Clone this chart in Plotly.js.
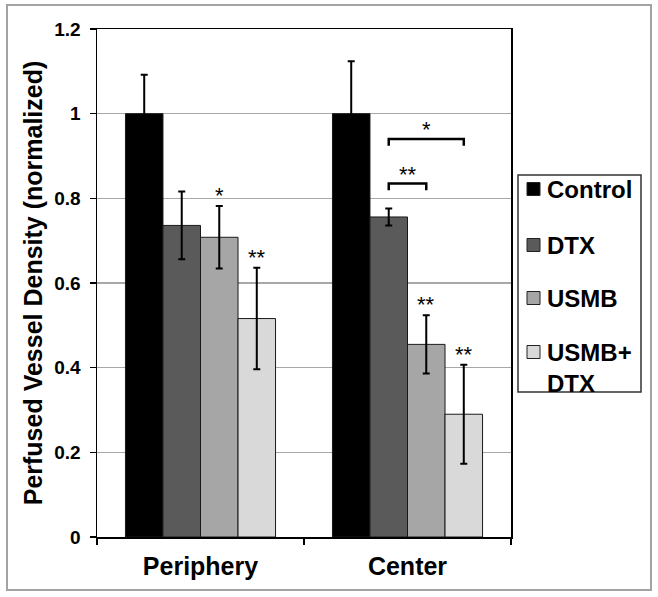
<!DOCTYPE html>
<html>
<head>
<meta charset="utf-8">
<script src="https://cdn.plot.ly/plotly-3.0.1.min.js"></script>
<style>html,body{margin:0;padding:0;background:#fff}#chart{width:658px;height:597px}</style>
</head>
<body>
<div id="chart"></div>
<script>
// ---- data ----
const categories = ["Periphery", "Center"];
const seriesNames = ["Control", "DTX", "USMB", "USMB+\nDTX"];
const seriesColors = ["#000000", "#5a5a5a", "#a6a6a6", "#d9d9d9"];
const controlVals = [1.0, 1.0];
const controlErr = [0.092, 0.124];
const dtxVals = [0.736, 0.756];
const dtxErr = [0.080, 0.020];
const usmbVals = [0.708, 0.455];
const usmbErr = [0.074, 0.069];
const comboVals = [0.516, 0.290];
const comboErr = [0.120, 0.117];
const yTickVals = [0, 0.2, 0.4, 0.6, 0.8, 1, 1.2];
const yTickText = ["0", "0.2", "0.4", "0.6", "0.8", "1", "1.2"];
// significance stars above bars: [categoryIndex, seriesIndex, label]
const starMarks = [[0, 2, "*"], [0, 3, "**"], [1, 2, "**"], [1, 3, "**"]];
// brackets within Center: [categoryIndex, fromSeries, toSeries, yLevel, label]
const brackets = [[1, 1, 3, 0.94, "*"], [1, 1, 2, 0.835, "**"]];

const values = [controlVals, dtxVals, usmbVals, comboVals];
const errors = [controlErr, dtxErr, usmbErr, comboErr];

const FONT = "Arial, 'Liberation Sans', Helvetica, sans-serif";
const L = 97, R = 511, T = 29, B = 537, W = 658, H = 597;
const px2x = p => (p - L) / (R - L);
const px2y = p => (B - p) / (B - T);

const bargap = 0.275;
const bw = (1 - bargap) / 4;
const offs = [0, 1, 2, 3].map(i => (i - 1.5) * bw);

const traces = seriesNames.map((n, i) => ({
  type: "bar",
  name: n.replace("\n", "<br>"),
  x: categories,
  y: values[i],
  marker: {color: seriesColors[i], line: {color: "#1a1a1a", width: 1}},
  error_y: {type: "data", array: errors[i], visible: true, color: "#000", thickness: 2, width: 3.5},
  showlegend: false,
  hoverinfo: "y"
}));

const shapes = [];
const annotations = [];

// outer frame
shapes.push({type: "rect", xref: "paper", yref: "paper",
  x0: px2x(7), x1: px2x(651), y0: px2y(590), y1: px2y(5),
  line: {color: "#a3a3a3", width: 2}, fillcolor: "rgba(0,0,0,0)", layer: "below"});

// stars over bars
starMarks.forEach(([c, s, lab]) => {
  annotations.push({xref: "x", yref: "y", x: c + offs[s], y: values[s][c] + errors[s][c],
    text: lab, showarrow: false, yanchor: "bottom", yshift: -4,
    font: {family: FONT, size: 22, color: "#000"}});
});

// brackets
brackets.forEach(([c, a, b, yl, lab]) => {
  const x0 = c + offs[a], x1 = c + offs[b], tip = 0.016;
  shapes.push({type: "path", xref: "x", yref: "y",
    path: `M ${x0},${yl - tip} L ${x0},${yl} L ${x1},${yl} L ${x1},${yl - tip}`,
    line: {color: "#000", width: 2.5}});
  annotations.push({xref: "x", yref: "y", x: (x0 + x1) / 2, y: yl, text: lab, showarrow: false,
    yanchor: "bottom", yshift: -5, font: {family: FONT, size: 22, color: "#000"}});
});

// legend (manual)
const legTop = 175, legBot = 392, legLeft = 518, legRight = 641;
shapes.push({type: "rect", xref: "paper", yref: "paper",
  x0: px2x(legLeft), x1: px2x(legRight), y0: px2y(legBot), y1: px2y(legTop),
  line: {color: "#333", width: 1.5}, fillcolor: "#fff"});
const legCenters = [189, 245, 298, 352];
seriesNames.forEach((n, i) => {
  const cy = legCenters[i];
  shapes.push({type: "rect", xref: "paper", yref: "paper",
    x0: px2x(527), x1: px2x(540), y0: px2y(cy + 6.5), y1: px2y(cy - 6.5),
    fillcolor: seriesColors[i], line: {color: "#222", width: 1}});
  annotations.push({xref: "paper", yref: "paper", x: px2x(545), y: px2y(cy - 15),
    xanchor: "left", yanchor: "top", align: "left", showarrow: false,
    text: "<b>" + n.replace("\n", "<br>") + "</b>",
    font: {family: FONT, size: 24, color: "#000"}});
});

const layout = {
  width: W, height: H,
  margin: {l: L, r: W - R, t: T, b: H - B, pad: 0},
  paper_bgcolor: "#fff", plot_bgcolor: "#fff",
  barmode: "group", bargap: bargap, bargroupgap: 0,
  font: {family: FONT, color: "#000"},
  xaxis: {
    type: "category", tickson: "boundaries", ticks: "outside", ticklen: 6, tickwidth: 1.5,
    tickcolor: "#000", showline: true, linecolor: "#000", linewidth: 1.5, mirror: true,
    showgrid: false, ticklabelstandoff: 6,
    tickfont: {family: FONT, size: 25, color: "#000", weight: "bold"}
  },
  yaxis: {
    range: [0, 1.2], tickvals: yTickVals, ticktext: yTickText,
    ticks: "outside", ticklen: 6, tickwidth: 1.5, tickcolor: "#000",
    showline: true, linecolor: "#000", linewidth: 1.5, mirror: true,
    showgrid: true, gridcolor: "#a8a8a8", gridwidth: 1.5, zeroline: false,
    ticklabelstandoff: 5,
    tickfont: {family: FONT, size: 19, color: "#000", weight: "bold"},
    title: {text: "<b>Perfused Vessel Density (normalized)</b>", standoff: 4,
      font: {family: FONT, size: 25, color: "#000"}}
  },
  shapes: shapes,
  annotations: annotations
};

Plotly.newPlot("chart", traces, layout, {displayModeBar: false, staticPlot: true});
</script>
</body>
</html>
